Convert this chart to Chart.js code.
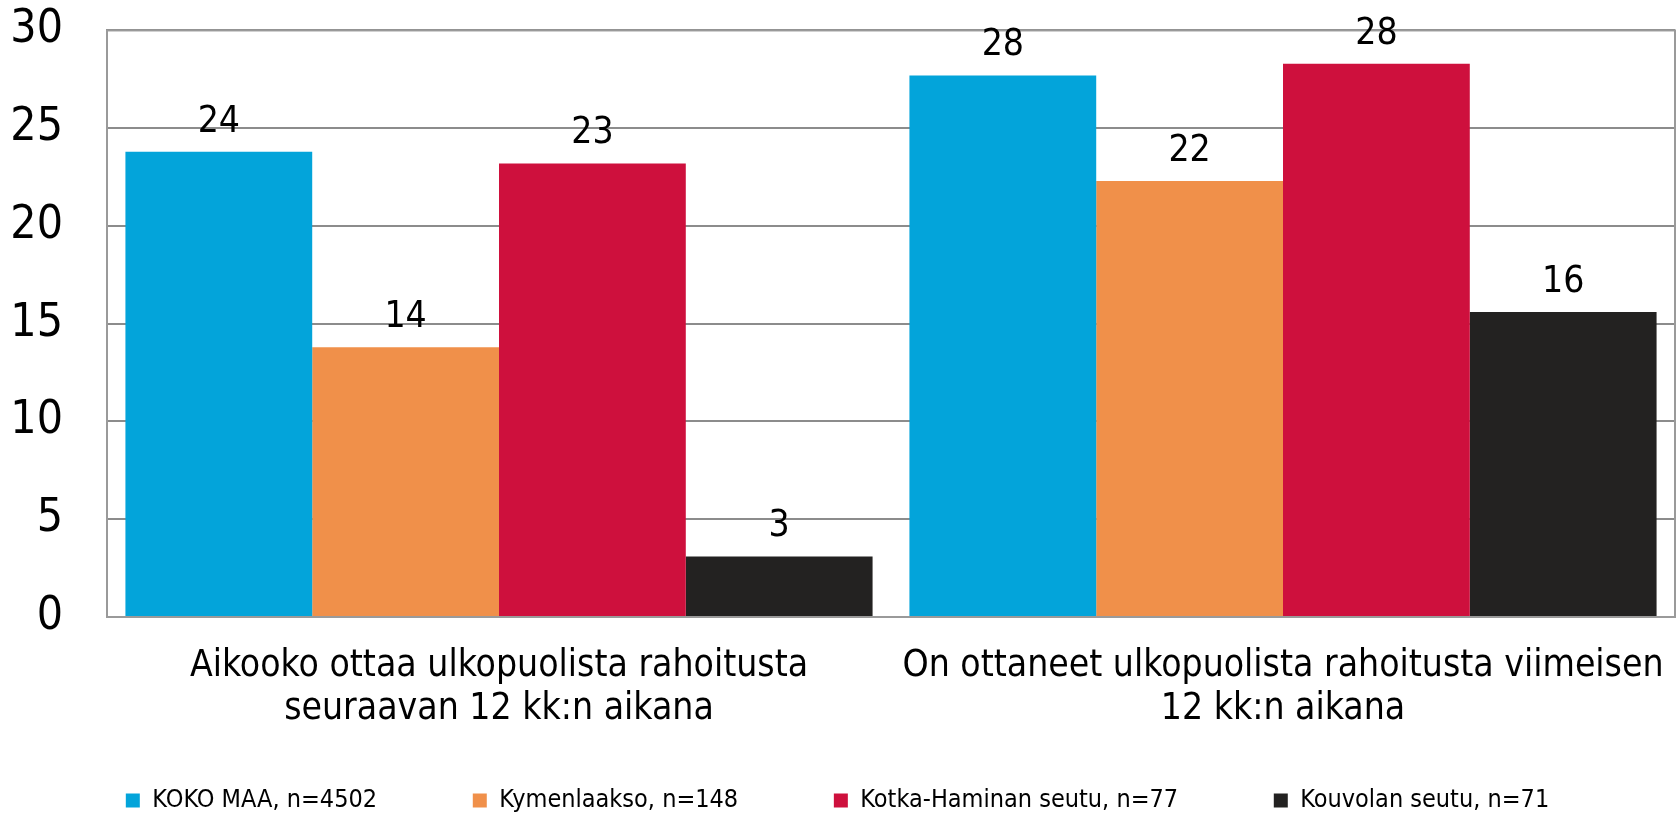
<!DOCTYPE html>
<html>
<head>
<meta charset="utf-8">
<script src="https://cdn.jsdelivr.net/npm/chart.js@4.4.1/dist/chart.umd.min.js"></script>
<style>
  html, body { margin: 0; padding: 0; background: #fff; }
  #wrap { width: 1680px; height: 816px; }
</style>
</head>
<body>
<div id="wrap"><canvas id="chart" width="1680" height="816"></canvas></div>
<script>
// Chart data
const categories = [
    ['Aikooko ottaa ulkopuolista rahoitusta', 'seuraavan 12 kk:n aikana'],
    ['On ottaneet ulkopuolista rahoitusta viimeisen', '12 kk:n aikana']
];
const seriesNames = ['KOKO MAA, n=4502', 'Kymenlaakso, n=148', 'Kotka-Haminan seutu, n=77', 'Kouvolan seutu, n=71'];
const kokoMaa = [23.8, 27.7];
const kymenlaakso = [13.8, 22.3];
const kotkaHamina = [23.2, 28.3];
const kouvola = [3.1, 15.6];
const seriesColors = ['#03a4da', '#f0904a', '#ce103d', '#232221'];
const yMin = 0;
const yMax = 30;
const yStep = 5;

const FONT = '"Liberation Sans Narrow", "DejaVu Sans Condensed", "DejaVu Sans", sans-serif';

// Value labels above bars (rounded like the original)
const valueLabels = {
    id: 'valueLabels',
    afterDatasetsDraw(chart) {
        const ctx = chart.ctx;
        ctx.save();
        ctx.font = '37px ' + FONT;
        ctx.fillStyle = '#000';
        ctx.textAlign = 'center';
        ctx.textBaseline = 'alphabetic';
        chart.data.datasets.forEach((ds, i) => {
            chart.getDatasetMeta(i).data.forEach((bar, j) => {
                ctx.fillText(String(Math.round(ds.data[j])), bar.x, bar.y - 20);
            });
        });
        ctx.restore();
    }
};

// Frame round the plot area
const plotFrame = {
    id: 'plotFrame',
    beforeDatasetsDraw(chart) {
        const a = chart.chartArea;
        const ctx = chart.ctx;
        ctx.save();
        ctx.strokeStyle = '#9a9a9a';
        ctx.lineWidth = 2;
        ctx.strokeRect(a.left, a.top, a.right - a.left, a.bottom - a.top);
        ctx.restore();
    }
};

const datasets = [kokoMaa, kymenlaakso, kotkaHamina, kouvola].map((d, i) => ({
    label: seriesNames[i],
    data: d,
    backgroundColor: seriesColors[i],
    borderWidth: 0,
    categoryPercentage: 0.953,
    barPercentage: 1
}));

new Chart(document.getElementById('chart').getContext('2d'), {
    type: 'bar',
    data: { labels: categories, datasets: datasets },
    options: {
        responsive: false,
        animation: false,
        layout: { padding: { top: 0, right: 5, left: 0, bottom: -7 } },
        plugins: {
            tooltip: { enabled: false },
            legend: {
                position: 'bottom',
                labels: {
                    font: { family: FONT, size: 25 },
                    color: '#000',
                    boxWidth: 14,
                    boxHeight: 14,
                    padding: 10,
                    // wide gaps between items without a tall legend row
                    generateLabels(chart) {
                        const items = Chart.defaults.plugins.legend.labels.generateLabels(chart);
                        items.forEach((it, i) => {
                            if (i < items.length - 1) it.text += ' '.repeat(12);
                        });
                        return items;
                    }
                }
            }
        },
        scales: {
            x: {
                grid: { display: false, drawTicks: false },
                border: { color: '#8c8c8c', width: 2 },
                ticks: {
                    font: { family: FONT, size: 37, lineHeight: 1.16 },
                    color: '#000',
                    padding: 28,
                    maxRotation: 0,
                    minRotation: 0,
                    autoSkip: false
                },
                afterFit(scale) {
                    scale.height = 161;
                    scale.paddingLeft = 0;
                    scale.paddingRight = 0;
                }
            },
            y: {
                min: yMin,
                max: yMax,
                grid: { color: '#8c8c8c', lineWidth: 2, drawTicks: true, tickLength: 40, tickColor: 'rgba(0,0,0,0)' },
                border: { color: '#8c8c8c', width: 2 },
                ticks: {
                    stepSize: yStep,
                    font: { family: FONT, size: 46, lineHeight: 1.15 },
                    color: '#000',
                    padding: 4
                },
                afterFit(scale) { scale.width = 107; }
            }
        }
    },
    plugins: [valueLabels, plotFrame]
});
</script>
</body>
</html>
